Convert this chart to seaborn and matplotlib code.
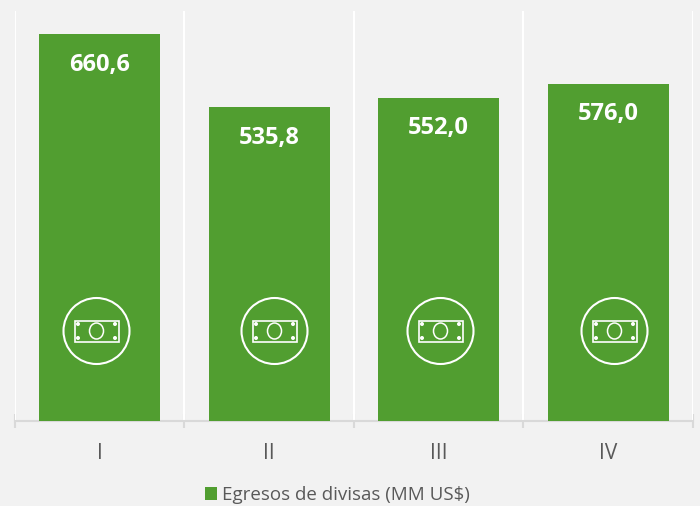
import numpy as np
import pandas as pd
import matplotlib
matplotlib.use("Agg")
import matplotlib.pyplot as plt
import seaborn as sns
from matplotlib.patches import Circle, Rectangle, Ellipse
from matplotlib.transforms import IdentityTransform

quarters = ["I", "II", "III", "IV"]
egresos = [660.6, 535.8, 552.0, 576.0]
labels = ["660,6", "535,8", "552,0", "576,0"]
series_name = "Egresos de divisas (MM US$)"

GREEN = "#519E30"
BG = "#F2F2F2"
GREY = "#595959"
AXIS = "#D9D9D9"

# icon centres in pixels, measured on the picture
icon_x = [96.5, 274.5, 440.5, 614.5]
icon_y = 331

sns.set_theme(style="white")
plt.rcParams['font.family'] = ['Open Sans', 'DejaVu Sans']

W, H = 700, 506
# the extra bit stops 5.06 * 100 being floored to 505 px
fig = plt.figure(figsize=(W / 100, (H + 0.01) / 100), dpi=100, facecolor=BG)
ax = fig.add_axes([14.7 / W, (H - 421.5) / H, 678.3 / W, 410.6 / H], facecolor=BG)

df = pd.DataFrame({"trimestre": quarters, "egresos": egresos})
sns.barplot(data=df, x="trimestre", y="egresos", color=GREEN, saturation=1,
            width=0.713, label=series_name, legend=False, ax=ax, zorder=3,
            edgecolor="none", linewidth=0)

ax.set_xlim(-0.5, 3.5)
ax.set_ylim(0, 700)
ax.set_xlabel("")
ax.set_ylabel("")
ax.set_yticks([])

for side in ["top", "left", "right"]:
    ax.spines[side].set_visible(False)
ax.spines["bottom"].set_color(AXIS)
ax.spines["bottom"].set_linewidth(1.5)

# separators between the categories
bounds = np.arange(-0.5, 4, 1)
ax.set_xticks(bounds, minor=True)
ax.tick_params(axis="x", which="major", length=0, pad=15.5, labelsize=15, labelcolor=GREY)
ax.tick_params(axis="x", which="minor", direction="inout", length=10.5, width=1.5,
               color=AXIS, bottom=True)
ax.vlines(bounds, 0, 700, color="white", linewidth=1.5, zorder=1)

for i, (v, txt) in enumerate(zip(egresos, labels)):
    ax.annotate(txt, (i, v), xytext=(0, -22), textcoords="offset points", ha="center",
                va="center", color="white", fontsize=17, fontweight="bold", zorder=5)

# banknote icons
px = IdentityTransform()
for cx in icon_x:
    cy = H - icon_y
    parts = [
        Circle((cx, cy), 33, fill=False, ec="white", lw=1.5),
        Rectangle((cx - 22, cy - 10.5), 44, 21, fill=False, ec="white", lw=1.2),
        Ellipse((cx, cy), 14, 16, fill=False, ec="white", lw=1.1),
    ]
    for p in parts:
        p.set_transform(px)
        fig.add_artist(p)
    for sx in (-1, 1):
        for sy in (-1, 1):
            c = Circle((cx + sx * 18.5, cy + sy * 7), 2, fc="white", ec="none")
            c.set_transform(px)
            fig.add_artist(c)

handles, leg_labels = ax.get_legend_handles_labels()
fig.legend(handles[:1], leg_labels[:1], loc="center", bbox_to_anchor=(337.5 / W, (H - 495) / H),
           frameon=False, fontsize=13.5, labelcolor=GREY, handlelength=0.64, handleheight=0.64,
           handletextpad=0.3, borderpad=0, borderaxespad=0)

fig.savefig("out.png", dpi=100, facecolor=BG)
